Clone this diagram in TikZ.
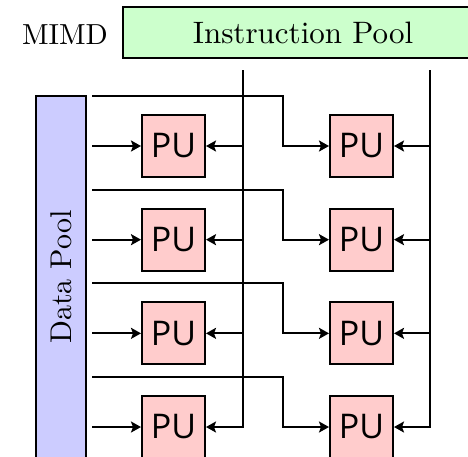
\documentclass[tikz,border=0pt]{standalone}
\usepackage{fontspec}
\setmainfont{lmroman10-regular}[Extension=.otf]
\newfontfamily\pufont{Open Sans}
\usetikzlibrary{arrows.meta,calc}
\begin{document}
\begin{tikzpicture}[x=1pt,y=-1pt,line width=2pt,
  pool/.style={draw,line width=2pt,inner sep=0pt},
  pu/.style={draw,fill=red!20,minimum width=63pt,minimum height=62pt,inner sep=0pt,
    font=\pufont\fontsize{34}{38}\selectfont},
  arr/.style={-{Stealth[length=10pt,width=11pt,inset=2pt]}}]
\useasboundingbox (0,0) rectangle (468,456);
% title and the two pools
\node[font=\fontsize{29}{34}\selectfont] (mimd) at (65,35) {MIMD};
\node[pool,fill=green!20,minimum width=360pt,minimum height=51pt,
  font=\fontsize{31}{36}\selectfont] (ip) at (303,32.5) {Instruction Pool};
\node[pool,fill=blue!20,rotate=90,minimum width=362pt,minimum height=50pt,
  font=\fontsize{30}{36}\selectfont] (dp) at (61,277) {Data Pool};
% instruction feeds
\coordinate (ia) at (243,70);
\coordinate (ib) at (430,70);
% processing units, four rows of two
\foreach \i in {0,...,3} {
  \pgfmathsetmacro\yy{146+93.67*\i}
  \node[pu] (a\i) at (173.5,\yy) {PU};
  \node[pu] (b\i) at (361.5,\yy) {PU};
  \coordinate (din\i) at (92,\yy);
  \coordinate (br\i) at (92,\yy-50);
  \coordinate (bend\i) at (283,\yy-50);
  \draw[arr] (din\i) -- (a\i.west);
  \draw[arr] (br\i) -- (bend\i) |- (b\i.west);
}
\foreach \i in {0,1,2} {
  \draw[arr] (ia |- a\i.east) -- (a\i.east);
  \draw[arr] (ib |- b\i.east) -- (b\i.east);
}
\draw[arr] (ia) |- (a3.east);
\draw[arr] (ib) |- (b3.east);
\end{tikzpicture}
\end{document}
